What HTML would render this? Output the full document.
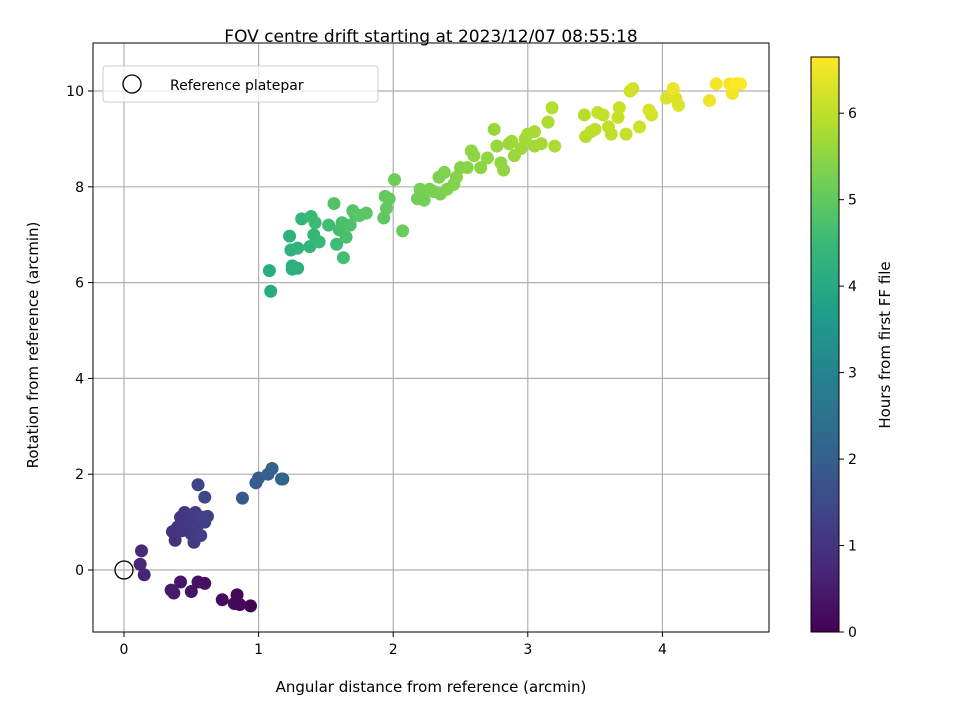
<!DOCTYPE html>
<html><head><meta charset="utf-8"><style>
body{margin:0;background:#fff;font-family:"Liberation Sans","DejaVu Sans",sans-serif}
</style></head><body>
<svg id="chart" width="960" height="720" xmlns="http://www.w3.org/2000/svg" font-family="DejaVu Sans, Liberation Sans, sans-serif" style="position:absolute;left:0;top:0">
<defs>
<linearGradient id="vir" x1="0" y1="1" x2="0" y2="0">
<stop offset="0" stop-color="#440154"/><stop offset="0.111" stop-color="#482878"/><stop offset="0.222" stop-color="#3e4989"/><stop offset="0.333" stop-color="#31688e"/><stop offset="0.444" stop-color="#26828e"/><stop offset="0.556" stop-color="#1f9e89"/><stop offset="0.667" stop-color="#35b779"/><stop offset="0.778" stop-color="#6ece58"/><stop offset="0.889" stop-color="#b5de2b"/><stop offset="1" stop-color="#fde725"/>
</linearGradient>
</defs>
<g id="grid"></g><g id="marks"></g><g id="axes"></g>
<text x="431" y="42" font-size="17" text-anchor="middle">FOV centre drift starting at 2023/12/07 08:55:18</text>
<text x="431" y="692" font-size="15" text-anchor="middle">Angular distance from reference (arcmin)</text>
<text x="38" y="345" font-size="15" text-anchor="middle" transform="rotate(-90 38 345)">Rotation from reference (arcmin)</text>
<text x="890" y="345" font-size="15" text-anchor="middle" transform="rotate(-90 890 345)">Hours from first FF file</text>
<g>
<rect x="103" y="66" width="275" height="36" rx="3" fill="#fff" fill-opacity="0.8" stroke="#ccc"/>
<circle cx="132" cy="84" r="9" fill="none" stroke="#000" stroke-width="1.3"/>
<text x="170" y="90" font-size="14">Reference platepar</text>
</g>
</svg>
<script>
const xVals=[0.94,0.86,0.84,0.82,0.73,0.6,0.55,0.5,0.42,0.37,0.35,0.15,0.12,0.13,
0.36,0.38,0.4,0.43,0.42,0.45,0.48,0.48,0.5,0.52,0.53,0.55,0.57,0.58,0.6,0.62,0.55,0.6,
0.88,0.98,1.0,1.07,1.1,1.17,1.18,
1.09,1.08,1.25,1.25,1.29,1.24,1.23,1.29,1.38,1.32,1.41,1.45,1.39,1.42,1.58,1.52,1.63,1.6,1.65,1.62,1.68,1.56,1.72,1.7,1.75,1.8,1.93,1.95,1.97,1.94,2.07,2.01,
2.18,2.23,2.2,2.27,2.3,2.35,2.34,2.4,2.38,2.45,2.47,2.5,2.55,2.65,2.6,2.58,2.7,2.82,2.8,2.77,2.75,2.9,2.86,2.88,2.95,3.05,2.98,3.1,3.0,3.05,3.2,3.15,3.18,
3.43,3.42,3.47,3.5,3.62,3.6,3.56,3.52,3.73,3.67,3.68,3.83,3.76,3.78,3.92,3.9,4.03,4.12,4.1,4.08,4.35,4.52,4.4,4.5,4.53,4.55,4.58];
const yVals=[-0.75,-0.72,-0.52,-0.7,-0.62,-0.28,-0.25,-0.45,-0.25,-0.48,-0.42,-0.1,0.12,0.4,
0.8,0.62,0.9,0.82,1.1,1.2,1.0,1.15,0.75,0.58,1.2,0.95,0.72,1.1,1.0,1.12,1.78,1.52,
1.5,1.82,1.92,2.0,2.12,1.9,1.9,
5.82,6.25,6.28,6.35,6.3,6.68,6.97,6.72,6.75,7.33,7.0,6.85,7.38,7.25,6.8,7.2,6.52,7.1,6.95,7.25,7.2,7.65,7.4,7.5,7.4,7.45,7.35,7.55,7.75,7.8,7.08,8.15,
7.75,7.72,7.95,7.95,7.9,7.85,8.2,7.95,8.3,8.05,8.2,8.4,8.4,8.4,8.65,8.75,8.6,8.35,8.5,8.85,9.2,8.65,8.9,8.95,8.8,8.85,9.0,8.9,9.1,9.15,8.85,9.35,9.65,
9.05,9.5,9.15,9.2,9.1,9.25,9.5,9.55,9.1,9.45,9.65,9.25,10.0,10.05,9.5,9.6,9.85,9.7,9.85,10.05,9.8,9.95,10.15,10.15,10.1,10.15,10.15];
const tVals=[0.05,0.1,0.12,0.15,0.2,0.3,0.33,0.37,0.42,0.47,0.5,0.7,0.75,0.8,
0.95,0.98,1.0,1.02,1.05,1.07,1.1,1.12,1.15,1.17,1.2,1.22,1.25,1.27,1.3,1.32,1.4,1.45,
1.85,1.9,1.95,2.0,2.05,2.1,2.15,
4.05,4.1,4.15,4.2,4.22,4.25,4.3,4.33,4.35,4.4,4.42,4.45,4.5,4.52,4.55,4.6,4.62,4.65,4.7,4.72,4.75,4.8,4.82,4.85,4.9,4.92,4.95,5.0,5.02,5.05,5.1,5.15,
5.2,5.22,5.24,5.26,5.28,5.3,5.32,5.34,5.36,5.38,5.4,5.42,5.44,5.46,5.48,5.5,5.52,5.54,5.56,5.58,5.6,5.62,5.64,5.66,5.68,5.7,5.72,5.74,5.76,5.78,5.8,5.82,
5.9,5.92,5.94,5.96,5.98,6.0,6.02,6.04,6.06,6.08,6.1,6.12,6.15,6.18,6.2,6.22,6.28,6.3,6.32,6.34,6.45,6.5,6.52,6.55,6.58,6.6,6.62];
const xTicks=[0,1,2,3,4];
const yTicks=[0,2,4,6,8,10];
const cTicks=[0,1,2,3,4,5,6];
const X0=93,X1=769,Y0=43,Y1=632;
const sx=v=>124+v*134.6, sy=v=>570-v*47.9;
const cMax=6.65, cTop=57, cBot=632, cy=v=>cBot-(v/cMax)*(cBot-cTop);
const stops=["#440154","#482878","#3e4989","#31688e","#26828e","#1f9e89","#35b779","#6ece58","#b5de2b","#fde725"];
function hex(h){return [1,3,5].map(i=>parseInt(h.substr(i,2),16));}
function vir(t){if(!isFinite(t))t=1;t=Math.max(0,Math.min(1,t));const f=t*9,i=Math.min(8,Math.floor(f)),r=f-i;const a=hex(stops[i]),b=hex(stops[i+1]);return `rgb(${a.map((v,k)=>Math.round(v+(b[k]-v)*r)).join(',')})`;}
const NS="http://www.w3.org/2000/svg";
function mk(tag,attrs,parent,txt){const e=document.createElementNS(NS,tag);for(const k in attrs)e.setAttribute(k,attrs[k]);if(txt!==undefined)e.textContent=txt;parent.appendChild(e);return e;}
const grid=document.getElementById('grid'),marks=document.getElementById('marks'),axes=document.getElementById('axes');
xTicks.forEach(v=>{const l=mk('line',{x1:sx(v),x2:sx(v),y1:Y0,y2:Y1,stroke:'#b0b0b0','stroke-width':1.2},grid);

});
yTicks.forEach(v=>{const l=mk('line',{x1:X0,x2:X1,y1:sy(v),y2:sy(v),stroke:'#b0b0b0','stroke-width':1.2},grid);

});
const n=Math.min(xVals.length,yVals.length);
for(let i=0;i<n;i++){const t=i<tVals.length?tVals[i]:tVals[tVals.length-1];
const c=mk('circle',{cx:sx(xVals[i]),cy:sy(yVals[i]),r:6.5,fill:vir(t/cMax)},marks);

}
const ref=mk('circle',{cx:sx(0),cy:sy(0),r:9,fill:'none',stroke:'#000','stroke-width':1.3},marks);


const fr=mk('rect',{x:X0,y:Y0,width:X1-X0,height:Y1-Y0,fill:'none',stroke:'#000','stroke-width':1},axes);


xTicks.forEach(v=>{mk('line',{x1:sx(v),x2:sx(v),y1:Y1,y2:Y1+5,stroke:'#000'},axes);
const t=mk('text',{x:sx(v),y:Y1+22,'font-size':14,'text-anchor':'middle'},axes,String(v));

});
yTicks.forEach(v=>{mk('line',{x1:X0-5,x2:X0,y1:sy(v),y2:sy(v),stroke:'#000'},axes);
const t=mk('text',{x:X0-9,y:sy(v)+5,'font-size':14,'text-anchor':'end'},axes,String(v));

});
const cb=mk('rect',{x:811,y:cTop,width:28,height:cBot-cTop,fill:'url(#vir)',stroke:'#000','stroke-width':1},axes);


cTicks.forEach(v=>{mk('line',{x1:839,x2:844,y1:cy(v),y2:cy(v),stroke:'#000'},axes);
const t=mk('text',{x:848,y:cy(v)+5,'font-size':14},axes,String(v));

});
</script>
</body></html>
